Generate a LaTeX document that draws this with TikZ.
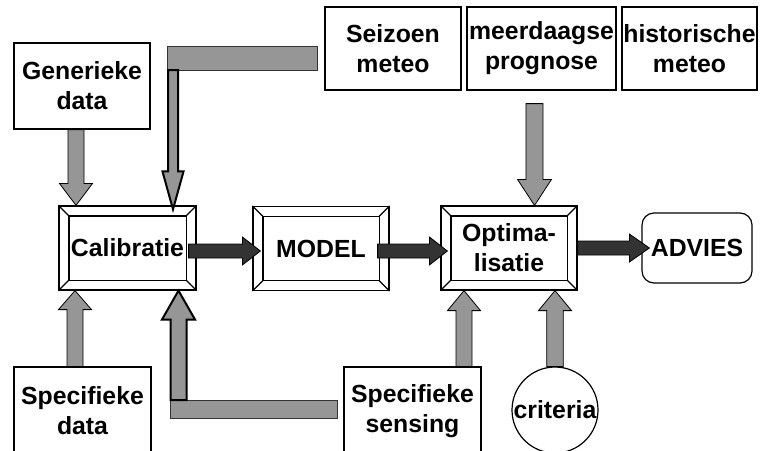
\documentclass[tikz,border=0pt]{standalone}
\usepackage{fontspec}
\setmainfont{Liberation Sans}
\usetikzlibrary{calc}
\definecolor{arrgray}{RGB}{150,150,150}
\definecolor{arrdark}{RGB}{51,51,51}
\newcommand\boxfont{\bfseries\fontsize{18.6}{22.5}\selectfont}
% horizontal block arrow: style, from, to, half shaft, half head, head length
\newcommand\harr[6]{\draw[#1] let \p1=(#2), \p2=(#3) in
  (\x1,{\y1-#4}) -- ({\x2-#6},{\y1-#4}) -- ({\x2-#6},{\y1-#5}) -- (\x2,\y1)
  -- ({\x2-#6},{\y1+#5}) -- ({\x2-#6},{\y1+#4}) -- (\x1,{\y1+#4}) -- cycle;}
% vertical block arrow: style, from, to, half shaft, half head, head length
\newcommand\varr[6]{\draw[#1] let \p1=(#2), \p2=(#3), \n1={ifthenelse(\y2>\y1,1,-1)} in
  ({\x1-#4},\y1) -- ({\x1-#4},{\y2-\n1*#6}) -- ({\x1-#5},{\y2-\n1*#6}) -- (\x1,\y2)
  -- ({\x1+#5},{\y2-\n1*#6}) -- ({\x1+#4},{\y2-\n1*#6}) -- ({\x1+#4},\y1) -- cycle;}
\tikzset{
  plainbox/.style={draw=black, line width=0.9pt, fill=white, font=\boxfont, align=center, inner sep=0pt},
  bevelbox/.style={plainbox, minimum width=102.75pt, minimum height=63pt},
  bevline/.style={draw=black, line width=0.9pt},
  grayarrow/.style={fill=arrgray, draw=black, line width=0.6pt, line join=miter},
  darkarrow/.style={fill=arrdark, draw=black, line width=0.6pt, line join=miter},
  thickarrow/.style={fill=arrgray, draw=black, line width=1.5pt, line join=miter},
  barstyle/.style={fill=arrgray, draw=black!80, line width=0.6pt},
}
\begin{document}
\begin{tikzpicture}[x=0.75pt,y=-0.75pt]
\useasboundingbox (0,0) rectangle (762,450);
\clip (0,0) rectangle (762,450);

% boxes
\node[plainbox, minimum width=102pt, minimum height=64.5pt] (gen) at (82,86) {Generieke\\data};
\node[bevelbox] (cal) at (127.5,248) {Calibratie};
\node[bevelbox, minimum width=102pt] (model) at (321,248.5) {MODEL};
\node[bevelbox, minimum width=102pt] (opt) at (509,248) {Optima-\\lisatie};
\node[plainbox, rounded corners=9pt, minimum width=82.5pt, minimum height=52.5pt] (adv) at (697,248) {ADVIES};
\node[plainbox, minimum width=102pt, minimum height=62.25pt] (seiz) at (393,48.5) {Seizoen\\meteo};
\node[plainbox, minimum width=111.75pt, minimum height=62.25pt] (meer) at (541.5,48.5) {meerdaagse\\prognose};
\node[plainbox, minimum width=101.25pt, minimum height=62.25pt] (hist) at (689.5,48.5) {historische\\meteo};
\node[plainbox, minimum width=102.75pt, minimum height=66pt] (specd) at (82.5,411) {Specifieke\\data};
\node[plainbox, minimum width=102.75pt, minimum height=66pt] (specs) at (412.5,411) {Specifieke\\sensing};
\node[circle, draw=black, line width=0.9pt, fill=white, minimum size=64.5pt, inner sep=0pt] (crit) at (555,410) {};
\node[font=\boxfont, inner sep=0pt] (critlbl) at (crit.center) {criteria};

% bevels
\foreach \n in {cal,model,opt}{
  \draw[bevline] ([shift={(10.5,10.5)}]\n.north west) rectangle ([shift={(-10.5,-10.5)}]\n.south east);
  \draw[bevline] (\n.north west) -- ([shift={(10.5,10.5)}]\n.north west);
  \draw[bevline] (\n.north east) -- ([shift={(-10.5,10.5)}]\n.north east);
  \draw[bevline] (\n.south west) -- ([shift={(10.5,-10.5)}]\n.south west);
  \draw[bevline] (\n.south east) -- ([shift={(-10.5,-10.5)}]\n.south east);
}

% gray input arrows
\varr{grayarrow}{$(gen.south)+(-6,0)$}{cal.north}{6pt}{12.4pt}{16.5pt}
\varr{grayarrow}{$(specd.north)+(-7.5,0)$}{cal.south}{6pt}{12.4pt}{14.25pt}
\varr{grayarrow}{$(specs.north)+(51.5,0)$}{opt.south}{6pt}{12.4pt}{15pt}
\varr{grayarrow}{crit.north}{opt.south}{6.2pt}{12.4pt}{15pt}
\varr{grayarrow}{$(meer.south)+(-7,13)$}{opt.north}{6.4pt}{12.75pt}{19.5pt}

% main flow arrows
\harr{darkarrow}{$(cal.east)+(-8,3)$}{$(model.west)+(8,3)$}{5.25pt}{10.5pt}{13.5pt}
\harr{darkarrow}{$(model.east)+(-12,2.5)$}{$(opt.west)+(7,0)$}{5.25pt}{10.5pt}{13.5pt}
\harr{darkarrow}{opt.east}{$(adv.west)+(8,0)$}{5.25pt}{10.5pt}{15pt}

% L-shaped arrows
\draw[barstyle] (167,46) rectangle ($(seiz.west)+(-7,21.5)$);
\coordinate (tcorner) at (173,70);
\varr{thickarrow}{tcorner}{$(cal.north)+(0,4)$}{3.75pt}{7.9pt}{28.5pt}

\draw[barstyle] (170,400) rectangle ($(specs.west)+(-6,7)$);
\coordinate (bcorner) at (178.5,400);
\varr{thickarrow}{bcorner}{cal.south}{6pt}{12.4pt}{21.75pt}
\end{tikzpicture}
\end{document}
